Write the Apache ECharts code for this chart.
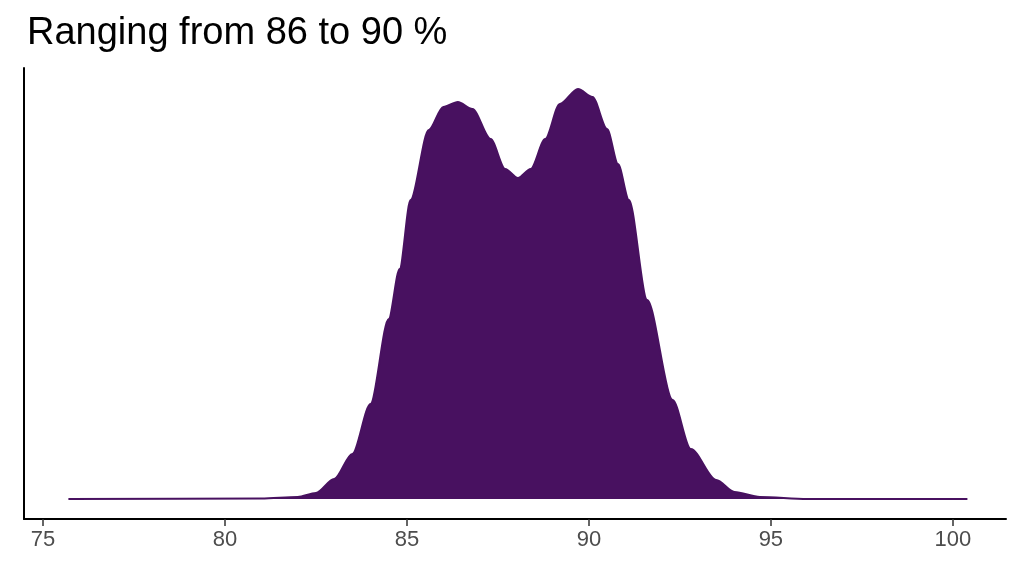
<!DOCTYPE html>
<html>
<head>
<meta charset="utf-8">
<script src="https://cdn.jsdelivr.net/npm/echarts@6/dist/echarts.min.js"></script>
<style>html,body{margin:0;padding:0;background:#fff}</style>
</head>
<body>
<div id="chart" style="width:1024px;height:576px;"></div>
<script>
// density (relative units)
var xs = [75.7, 81, 82, 82.5, 83, 83.5, 84, 84.5, 84.8, 85.1, 85.6, 86, 86.4, 86.8, 87.3, 87.7, 88.05, 88.4, 88.8, 89.2, 89.7, 90.1, 90.5, 90.8, 91.1, 91.6, 92.3, 92.8, 93.5, 94, 94.7, 96, 100.4];
var dens = [0, 0.5, 2, 6, 20, 45, 95, 180, 230, 299, 369, 392, 397, 390, 360, 330, 321, 330, 360, 395, 410, 402, 370, 335, 299, 199, 99, 50, 19, 7, 2, 0, 0];
var tickVals = [75, 80, 85, 90, 95, 100];
var titleText = 'Ranging from 86 to 90 %';

var pts = xs.map(function (x, i) { return [x, dens[i]]; });
var chart = echarts.init(document.getElementById('chart'));
chart.setOption({
  animation: false,
  title: {
    text: titleText, left: 22, top: 10,
    textStyle: {fontFamily: 'Liberation Sans', fontSize: 38, fontWeight: 'normal', color: '#000'}
  },
  grid: {left: 24, right: 18, top: 68, bottom: 57},
  xAxis: {
    type: 'value', min: 74.48, max: 101.46,
    axisLine: {onZero: false, lineStyle: {color: '#000', width: 2}},
    axisTick: {show: true, length: 7, customValues: tickVals, lineStyle: {color: '#333', width: 1.5}},
    splitLine: {show: false},
    axisLabel: {color: '#4d4d4d', fontSize: 22, fontFamily: 'Liberation Sans', margin: 10, customValues: tickVals}
  },
  yAxis: {
    type: 'value', min: -20, max: 431,
    axisLine: {show: true, lineStyle: {color: '#000', width: 2}},
    axisTick: {show: false}, axisLabel: {show: false}, splitLine: {show: false}
  },
  series: [{
    type: 'line', data: pts, smooth: 0.3, smoothMonotone: 'x', symbol: 'none',
    lineStyle: {color: '#481160', width: 2},
    areaStyle: {color: '#481160', opacity: 1}
  }]
});
</script>
</body>
</html>
